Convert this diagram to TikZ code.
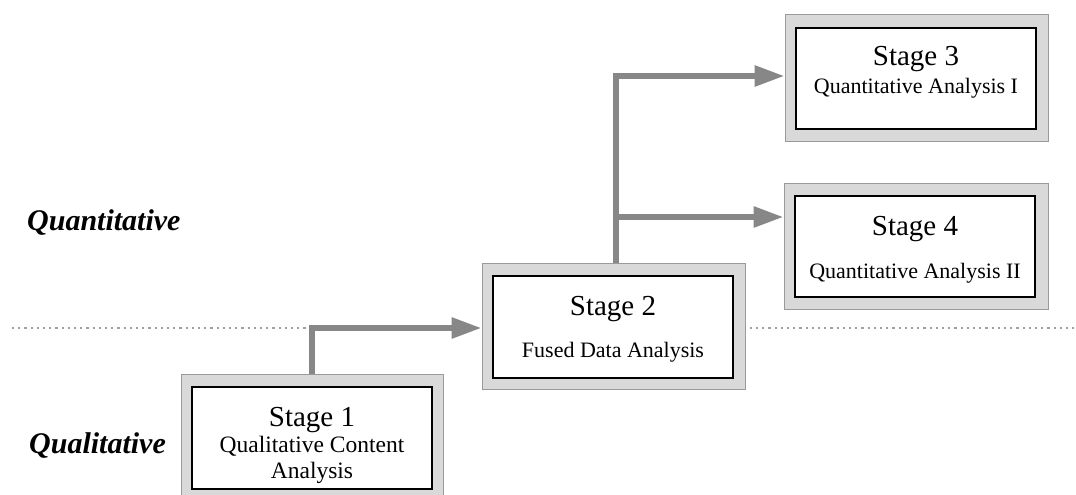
\documentclass[tikz,border=0pt]{standalone}
\usepackage{fontspec}
\setmainfont{Liberation Serif}
\usetikzlibrary{arrows.meta}
\definecolor{outerfill}{HTML}{D9D9D9}
\definecolor{outerline}{HTML}{9A9A9A}
\definecolor{arrowgray}{HTML}{878787}
\definecolor{dotgray}{HTML}{A0A0A0}
\tikzset{
  outerbox/.style={draw=outerline, line width=1pt, fill=outerfill, inner sep=0pt},
  innerbox/.style={draw=black, line width=2.4pt, fill=white, inner sep=0pt},
  titletxt/.style={anchor=base, inner sep=0pt, font=\fontsize{29}{29}\selectfont},
  subtxt/.style={anchor=base, inner sep=0pt, font=\fontsize{22}{22}\selectfont},
  sidetxt/.style={anchor=base west, inner sep=0pt, font=\fontsize{30}{30}\selectfont\bfseries\itshape},
  conn/.style={draw=arrowgray, line width=6pt, -{Triangle[length=30pt,width=20pt]}},
}
\newcommand{\boxpair}[9]{%
  % #1 name, #2 x1 #3 y1 #4 x2 #5 y2 (outer), #6 x1 #7 y1 #8 x2 #9 y2 (inner)
  \node[outerbox, minimum width=#4pt-#2pt, minimum height=#5pt-#3pt] (#1o) at ({(#2+#4)/2},{-(#3+#5)/2}) {};
  \node[innerbox, minimum width=#8pt-#6pt, minimum height=#9pt-#7pt] (#1) at ({(#6+#8)/2},{-(#7+#9)/2}) {};
}
\begin{document}
\begin{tikzpicture}[x=1pt,y=1pt]
\useasboundingbox (0,0) rectangle (1076,-495);
\begin{scope}
\clip (0,0) rectangle (1076,-495);
% dotted boundary
\coordinate (dl) at (12,-328);
\coordinate (dr) at (1074,-328);
\draw[dotgray, line width=2.2pt, dash pattern=on 2.2pt off 4pt] (dl) -- (dr);
% boxes
\boxpair{s1}{181}{374}{443}{502}{192}{387}{432}{489}
\boxpair{s2}{482}{263}{745}{389}{493}{276}{733}{378}
\boxpair{s3}{785}{15}{1048}{141}{796}{28}{1036}{129}
\boxpair{s4}{784}{183}{1048}{309}{795}{196}{1035}{297}
% texts
\node[titletxt] (t1) at (312,-426) {Stage 1};
\node[subtxt, font=\fontsize{23.5}{23.5}\selectfont] (u1) at (312,-452) {Qualitative Content};
\node[subtxt, font=\fontsize{23.5}{23.5}\selectfont] (v1) at (312,-478) {Analysis};
\node[titletxt] (t2) at (613,-315) {Stage 2};
\node[subtxt] (u2) at (613,-357) {Fused Data Analysis};
\node[titletxt] (t3) at (916,-66) {Stage 3};
\node[subtxt] (u3) at (916,-93) {Quantitative Analysis I};
\node[titletxt] (t4) at (915,-235) {Stage 4};
\node[subtxt] (u4) at (915,-278) {Quantitative Analysis II};
\node[sidetxt] (qn) at (27,-230) {Quantitative};
\node[sidetxt] (ql) at (29,-453) {Qualitative};
% connectors
\coordinate (k1) at (312,-328);
\draw[conn] (k1 |- s1o.north) -- (k1) -- (k1 -| s2o.west);
\coordinate (k2) at (616,-76);
\draw[conn] (k2 |- s2o.north) -- (k2) -- (k2 -| s3o.west);
\coordinate (k3) at (616,-217);
\draw[conn] (k3) -- (k3 -| s4o.west);
\end{scope}
\end{tikzpicture}
\end{document}
